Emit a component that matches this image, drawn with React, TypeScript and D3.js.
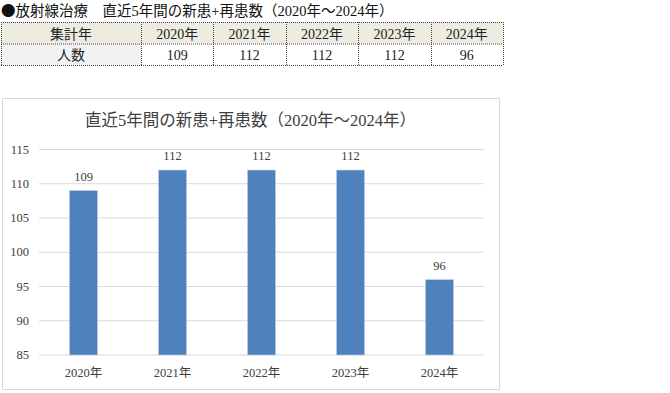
import React from "react";
import * as d3 from "d3";

// data
const years = ["2020年", "2021年", "2022年", "2023年", "2024年"];
const patients = [109, 112, 112, 112, 96];
const yTicks = [85, 90, 95, 100, 105, 110, 115];

const heading = "放射線治療　直近5年間の新患+再患数（2020年～2024年）";
const chartTitle = "直近5年間の新患+再患数（2020年～2024年）";
const rowHead = "集計年";
const rowLabel = "人数";

const FONT = "'Liberation Serif', 'DejaVu Serif', 'Noto Sans CJK JP', serif";

export default function App() {
    // table geometry
    const tblLeft = 1, tblFirstCol = 141, tblRight = 503;
    const rowTop = 22, rowMid = 43.5, rowBottom = 65;
    const colX = d3.scaleBand().domain(years).range([tblFirstCol, tblRight]);

    // chart geometry
    const frame = { x: 2, y: 98, w: 497, h: 291 };
    const plot = { left: 39, right: 484, top: 149.5, bottom: 355 };
    const x = d3.scaleBand().domain(years).range([plot.left, plot.right]).paddingInner(0.685).paddingOuter(0.3425);
    const y = d3.scaleLinear().domain([85, 115]).range([plot.bottom, plot.top]);

    const dotted = { stroke: "#444", strokeWidth: 1, strokeDasharray: "1,1" };

    return (
        <svg width={670} height={393} style={{ position: "absolute", left: 0, top: 0, background: "#fff" }} fontFamily={FONT}>
            {/* heading */}
            <text x={1} y={16} fontSize={14.5} fill="#111">
                <tspan fontFamily="'Noto Sans CJK JP'">●</tspan>{heading}
            </text>

            {/* table */}
            <rect x={tblLeft} y={rowTop} width={tblRight - tblLeft} height={rowMid - rowTop} fill="#EEECE1" />
            <rect x={tblLeft} y={rowMid} width={tblFirstCol - tblLeft} height={rowBottom - rowMid} fill="#F2F2F2" />
            {[rowTop, rowMid, rowBottom].map((yy, i) => (
                <line key={"h" + i} x1={tblLeft} x2={tblRight} y1={yy + 0.5} y2={yy + 0.5} {...dotted} />
            ))}
            {[tblLeft, ...years.map(d => colX(d) as number), tblRight].map((xx, i) => (
                <line key={"v" + i} x1={Math.round(xx) + 0.5} x2={Math.round(xx) + 0.5} y1={rowTop} y2={rowBottom + 1} {...dotted} />
            ))}
            <text x={(tblLeft + tblFirstCol) / 2} y={38.5} fontSize={14} textAnchor="middle" fill="#222">{rowHead}</text>
            <text x={(tblLeft + tblFirstCol) / 2} y={60} fontSize={14} textAnchor="middle" fill="#222">{rowLabel}</text>
            {years.map((d, i) => (
                <g key={d}>
                    <text x={(colX(d) as number) + colX.bandwidth() / 2} y={38.5} fontSize={14} textAnchor="middle" fill="#222">{d}</text>
                    <text x={(colX(d) as number) + colX.bandwidth() / 2} y={60} fontSize={14} textAnchor="middle" fill="#222">{patients[i]}</text>
                </g>
            ))}

            {/* chart frame */}
            <rect x={frame.x + 0.5} y={frame.y + 0.5} width={frame.w} height={frame.h} fill="#fff" stroke="#D9D9D9" />
            <text x={frame.x + frame.w / 2} y={126} fontSize={16.5} textAnchor="middle" fill="#404040">{chartTitle}</text>

            {/* grid + y ticks */}
            {yTicks.map(t => (
                <g key={t}>
                    <line x1={plot.left} x2={plot.right} y1={y(t)} y2={y(t)} stroke="#D9D9D9" strokeWidth={1} />
                    <text x={29} y={y(t) + 4} fontSize={12.5} textAnchor="end" fill="#404040">{t}</text>
                </g>
            ))}

            {/* bars */}
            {years.map((d, i) => (
                <g key={d}>
                    <rect x={x(d)} y={y(patients[i])} width={x.bandwidth()} height={y(85) - y(patients[i])}
                        fill="#4F81BD" stroke="#BDD0E8" strokeWidth={0.6} />
                    <text x={(x(d) as number) + x.bandwidth() / 2} y={y(patients[i]) - 10} fontSize={12.5} textAnchor="middle" fill="#404040">{patients[i]}</text>
                    <text x={(x(d) as number) + x.bandwidth() / 2} y={377} fontSize={12.5} textAnchor="middle" fill="#404040">{d}</text>
                </g>
            ))}
        </svg>
    );
}
